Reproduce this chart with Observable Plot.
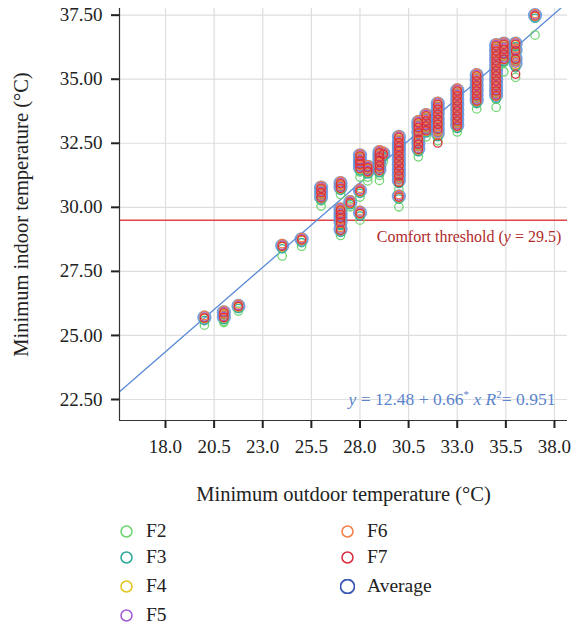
<!DOCTYPE html>
<html><head><meta charset="utf-8">
<script src="https://cdn.jsdelivr.net/npm/d3@7"></script>
<script src="https://cdn.jsdelivr.net/npm/@observablehq/plot@0.6"></script>
<style>
body{margin:0;background:#fff;font-family:"Liberation Serif",serif;}
#wrap{position:relative;width:572px;height:629px;overflow:hidden;}
#chart{position:absolute;left:0;top:0;}
.li{position:absolute;font-size:19.5px;color:#222;display:flex;align-items:center;height:28px;white-space:nowrap;font-family:"Liberation Serif",serif;}
.li svg{margin-right:12px;}
</style></head><body>
<div id="wrap"><div id="chart"></div><div id="legend"></div></div>
<script>
// ---- data ----
const xTicks = [18, 20.5, 23, 25.5, 28, 30.5, 33, 35.5, 38];
const yTicks = [22.5, 25, 27.5, 30, 32.5, 35, 37.5];

// minimum outdoor temperature of each observation
const outdoor = [
  20, 21, 21, 21.75, 24, 25,
  26, 26, 26,
  27, 27, 27, 27, 27, 27, 27,
  27.5,
  28, 28, 28, 28, 28, 28,
  28.4, 28.4,
  29, 29, 29, 29, 29, 29.2,
  30, 30, 30, 30, 30, 30, 30, 30, 30, 30, 30,
  31, 31, 31, 31, 31, 31,
  31.4, 31.4, 31.4, 31.4,
  32, 32, 32, 32, 32, 32, 32,
  33, 33, 33, 33, 33, 33, 33, 33,
  34, 34, 34, 34, 34, 34,
  35, 35, 35, 35, 35, 35, 35, 35, 35, 35, 35,
  35.4, 35.4, 35.4, 35.4,
  36, 36, 36, 36,
  37
];
const F2 = [
  25.40, 25.55, 25.50, 25.95, 28.10, 28.48,
  30.45, 30.25, 30.05,
  30.70, 30.50, 29.62, 29.45, 29.30, 29.12, 28.90,
  30.02,
  31.70, 31.48, 31.38, 31.18, 30.40, 29.50,
  31.18, 31.03,
  31.85, 31.65, 31.50, 31.25, 31.05, 31.80,
  32.45, 32.25, 32.05, 31.90, 31.70, 31.52, 31.30, 31.10, 30.95, 30.70, 30.02,
  33.02, 32.85, 32.62, 32.38, 32.18, 31.97,
  33.35, 33.12, 32.95, 32.75,
  33.75, 33.55, 33.35, 33.15, 32.95, 32.78, 32.60,
  34.25, 34.05, 33.85, 33.65, 33.48, 33.28, 33.08, 32.94,
  34.85, 34.65, 34.45, 34.25, 34.05, 33.84,
  36.00, 35.80, 35.62, 35.42, 35.22, 35.02, 34.82, 34.62, 34.42, 34.22, 33.90,
  36.10, 35.90, 35.65, 35.29,
  36.10, 35.85, 35.50, 35.07,
  36.72
];
const F3 = [
  25.58, 25.80, 25.62, 26.05, 28.38, 28.62,
  30.66, 30.48, 30.28,
  30.82, 30.66, 29.80, 29.63, 29.48, 29.30, 29.02,
  30.10,
  31.92, 31.72, 31.58, 31.42, 30.55, 29.66,
  31.45, 31.30,
  32.04, 31.86, 31.72, 31.52, 31.35, 31.98,
  32.62, 32.44, 32.25, 32.10, 31.92, 31.72, 31.52, 31.33, 31.13, 30.93, 30.32,
  33.20, 33.02, 32.82, 32.56, 32.37, 32.17,
  33.48, 33.28, 33.08, 32.90,
  33.92, 33.74, 33.54, 33.34, 33.15, 32.95, 32.76,
  34.45, 34.26, 34.06, 33.86, 33.67, 33.47, 33.28, 33.08,
  35.04, 34.84, 34.65, 34.45, 34.26, 34.06,
  36.21, 36.01, 35.82, 35.62, 35.43, 35.23, 35.04, 34.84, 34.65, 34.45, 34.24,
  36.27, 36.08, 35.88, 35.69,
  36.27, 36.01, 35.69, 35.45,
  37.38
];
const F4 = [
  25.66, 25.86, 25.68, 26.11, 28.46, 28.71,
  30.72, 30.55, 30.35,
  30.90, 30.72, 29.87, 29.70, 29.55, 29.38, 29.09,
  30.15,
  31.98, 31.79, 31.66, 31.50, 30.61, 29.74,
  31.53, 31.37,
  32.11, 31.94, 31.79, 31.59, 31.42, 32.05,
  32.70, 32.50, 32.33, 32.18, 31.98, 31.79, 31.59, 31.40, 31.20, 31.00, 30.38,
  33.28, 33.09, 32.89, 32.63, 32.44, 32.24,
  33.55, 33.35, 33.15, 32.97,
  34.00, 33.81, 33.61, 33.41, 33.22, 33.02, 32.83,
  34.52, 34.33, 34.13, 33.93, 33.74, 33.54, 33.35, 33.15,
  35.11, 34.91, 34.72, 34.52, 34.33, 34.13,
  36.28, 36.08, 35.89, 35.69, 35.50, 35.30, 35.11, 34.91, 34.72, 34.52, 34.33,
  36.34, 36.15, 35.95, 35.76,
  36.34, 36.08, 35.76, 35.56,
  37.45
];
const F5 = [
  25.72, 25.92, 25.74, 26.17, 28.52, 28.77,
  30.79, 30.62, 30.42,
  30.97, 30.79, 29.94, 29.77, 29.62, 29.45, 29.16,
  30.22,
  32.05, 31.86, 31.73, 31.57, 30.68, 29.81,
  31.60, 31.44,
  32.18, 32.01, 31.86, 31.66, 31.49, 32.12,
  32.77, 32.57, 32.40, 32.25, 32.05, 31.86, 31.66, 31.47, 31.27, 31.07, 30.45,
  33.35, 33.16, 32.96, 32.70, 32.51, 32.31,
  33.62, 33.42, 33.22, 33.04,
  34.07, 33.88, 33.68, 33.48, 33.29, 33.09, 32.90,
  34.59, 34.40, 34.20, 34.00, 33.81, 33.61, 33.42, 33.22,
  35.18, 34.98, 34.79, 34.59, 34.40, 34.20,
  36.35, 36.15, 35.96, 35.76, 35.57, 35.37, 35.18, 34.98, 34.79, 34.59, 34.40,
  36.41, 36.22, 36.02, 35.83,
  36.41, 36.15, 35.83, 35.63,
  37.52
];
const F6 = [
  25.78, 25.98, 25.80, 26.22, 28.58, 28.82,
  30.85, 30.68, 30.48,
  31.02, 30.85, 30.00, 29.83, 29.68, 29.51, 29.22,
  30.28,
  32.10, 31.92, 31.79, 31.63, 30.74, 29.87,
  31.66, 31.50,
  32.24, 32.07, 31.92, 31.72, 31.55, 32.18,
  32.82, 32.63, 32.46, 32.31, 32.11, 31.92, 31.72, 31.53, 31.33, 31.13, 30.50,
  33.41, 33.22, 33.02, 32.76, 32.57, 32.37,
  33.68, 33.48, 33.28, 33.10,
  34.13, 33.94, 33.74, 33.54, 33.35, 33.15, 32.96,
  34.65, 34.46, 34.26, 34.06, 33.87, 33.67, 33.48, 33.28,
  35.24, 35.04, 34.85, 34.65, 34.46, 34.26,
  36.40, 36.21, 36.02, 35.82, 35.63, 35.43, 35.24, 35.04, 34.85, 34.65, 34.46,
  36.46, 36.28, 36.08, 35.89,
  36.46, 36.21, 35.89, 35.69,
  37.56
];
const F7 = [
  25.68, 25.88, 25.70, 26.13, 28.48, 28.73,
  30.74, 30.57, 30.37,
  30.92, 30.74, 29.89, 29.72, 29.57, 29.40, 29.10,
  30.17,
  32.00, 31.81, 31.68, 31.52, 30.63, 29.76,
  31.55, 31.39,
  32.13, 31.96, 31.81, 31.61, 31.44, 32.07,
  32.72, 32.52, 32.35, 32.20, 32.00, 31.81, 31.61, 31.42, 31.22, 30.98, 30.40,
  33.30, 33.11, 32.91, 32.65, 32.46, 32.26,
  33.57, 33.37, 33.17, 32.99,
  34.02, 33.83, 33.63, 33.43, 33.24, 33.04, 32.51,
  34.54, 34.35, 34.15, 33.95, 33.76, 33.56, 33.37, 33.17,
  35.13, 34.93, 34.74, 34.54, 34.35, 34.15,
  36.30, 36.10, 35.91, 35.71, 35.52, 35.32, 35.13, 34.93, 34.74, 34.54, 34.35,
  36.36, 36.17, 35.97, 35.78,
  36.36, 36.10, 35.78, 35.20,
  37.47
];
const Average = [
  25.70, 25.90, 25.72, 26.15, 28.50, 28.75,
  30.77, 30.60, 30.40,
  30.95, 30.77, 29.92, 29.75, 29.60, 29.43, 29.14,
  30.20,
  32.03, 31.84, 31.71, 31.55, 30.66, 29.79,
  31.58, 31.42,
  32.16, 31.99, 31.84, 31.64, 31.47, 32.10,
  32.75, 32.55, 32.38, 32.23, 32.03, 31.84, 31.64, 31.45, 31.25, 31.05, 30.43,
  33.33, 33.14, 32.94, 32.68, 32.49, 32.29,
  33.60, 33.40, 33.20, 33.02,
  34.05, 33.86, 33.66, 33.46, 33.27, 33.07, 32.88,
  34.57, 34.38, 34.18, 33.98, 33.79, 33.59, 33.40, 33.20,
  35.16, 34.96, 34.77, 34.57, 34.38, 34.18,
  36.33, 36.13, 35.94, 35.74, 35.55, 35.35, 35.16, 34.96, 34.77, 34.57, 34.38,
  36.39, 36.20, 36.00, 35.81,
  36.39, 36.13, 35.81, 35.61,
  37.50
];
const seriesNames = ["F2", "F3", "F4", "F5", "F6", "F7", "Average"];
const seriesColors = ["#6cd36c", "#2aa699", "#e2c41c", "#a25bd4", "#f27c45", "#d92b3d", "#3b58b5"];
const threshold = 29.5;
const regIntercept = 12.48;
const regSlope = 0.66;
const thresholdLabel = "Comfort threshold (y = 29.5)";
const eqLabel = "y = 12.48 + 0.66* x R2= 0.951";
const xLabel = "Minimum outdoor temperature (°C)";
const yLabel = "Minimum indoor temperature (°C)";

// ---- build ----
const xDomain = [15.635, 38.67];
const yDomain = [21.68, 37.76];
const seriesData = {F2, F3, F4, F5, F6, F7, Average};
const rows = name => outdoor.map((x, i) => ({x, y: seriesData[name][i]}));
const regLine = xDomain.map(x => ({x, y: regIntercept + regSlope * x}));

const dotMarks = [];
dotMarks.push(Plot.dot(rows("Average"), {x: "x", y: "y", r: 6, stroke: "#5f8fd9", strokeOpacity: 0.85, strokeWidth: 2.2}));
seriesNames.slice(0, 6).forEach((n, k) => {
  dotMarks.push(Plot.dot(rows(n), {x: "x", y: "y", r: 4.2, stroke: seriesColors[k], strokeWidth: 1.3, strokeOpacity: 0.95}));
});

const chart = Plot.plot({
  width: 572, height: 510,
  marginLeft: 119, marginRight: 5, marginTop: 8, marginBottom: 90,
  style: {fontFamily: "'Liberation Serif', serif", color: "#222", background: "#fff"},
  x: {domain: xDomain},
  y: {domain: yDomain},
  marks: [
    Plot.gridX(xTicks, {stroke: "#dedede", strokeOpacity: 1, strokeWidth: 1.2}),
    Plot.gridY(yTicks, {stroke: "#dedede", strokeOpacity: 1, strokeWidth: 1.2}),
    Plot.ruleY([threshold], {stroke: "#e04545", strokeWidth: 1.5}),
    Plot.line(regLine, {x: "x", y: "y", stroke: "#5b8ad6", strokeWidth: 1.3, clip: true}),
    ...dotMarks,
    Plot.ruleX([xDomain[0]], {stroke: "#333", strokeWidth: 1.2}),
    Plot.ruleY([yDomain[0]], {stroke: "#333", strokeWidth: 1.2}),
    Plot.axisY({ticks: yTicks, tickFormat: d3.format(".2f"), tickSize: 8, tickPadding: 9, strokeWidth: 2, fontSize: 19,
      fontFamily: "'Liberation Serif', serif",
      label: yLabel, labelAnchor: "center", labelArrow: "none", labelOffset: 106}),
    Plot.axisX({ticks: xTicks, tickFormat: d3.format(".1f"), tickSize: 8, tickPadding: 11, strokeWidth: 2, fontSize: 19,
      fontFamily: "'Liberation Serif', serif",
      label: xLabel, labelAnchor: "center", labelArrow: "none", labelOffset: 80}),
    Plot.text([thresholdLabel], {x: 38.35, y: 28.83, text: d => d, textAnchor: "end", fontSize: 16, fill: "#b22a2a"}),
    Plot.text([eqLabel], {x: 38.05, y: 22.5, text: d => d, textAnchor: "end", fontSize: 17.5, fill: "#5b84cc"})
  ]
});
document.getElementById("chart").appendChild(chart);

// axis title font sizes and rich text
chart.querySelectorAll("text").forEach(t => {
  const s = t.textContent;
  if (s === xLabel || s === yLabel) t.setAttribute("font-size", "20.5");
  if (s === thresholdLabel) {
    t.innerHTML = 'Comfort threshold (<tspan font-style="italic">y</tspan> = 29.5)';
  }
  if (s === eqLabel) {
    t.innerHTML = '<tspan font-style="italic">y</tspan> = 12.48 + 0.66<tspan dy="-7" font-size="11">*</tspan><tspan dy="7"> </tspan><tspan font-style="italic">x</tspan> <tspan font-style="italic">R</tspan><tspan dy="-7" font-size="11">2</tspan><tspan dy="7">= 0.951</tspan>';
  }
});

// legend
const legendPos = [
  {left: 119, top: 517}, {left: 119, top: 543}, {left: 119, top: 572}, {left: 119, top: 601},
  {left: 340, top: 517}, {left: 340, top: 543}, {left: 340, top: 572}
];
const legend = document.getElementById("legend");
seriesNames.forEach((n, k) => {
  const d = document.createElement("div");
  d.className = "li";
  d.style.left = legendPos[k].left + "px";
  d.style.top = legendPos[k].top + "px";
  const isAvg = n === "Average";
  const r = isAvg ? 7 : 5.5;
  d.innerHTML = `<svg width="15" height="15" viewBox="0 0 15 15"><circle cx="7.5" cy="7.5" r="${r}" fill="none" stroke="${seriesColors[k]}" stroke-width="${isAvg ? 1.8 : 1.5}"/></svg><span>${n}</span>`;
  legend.appendChild(d);
});
</script></body></html>
